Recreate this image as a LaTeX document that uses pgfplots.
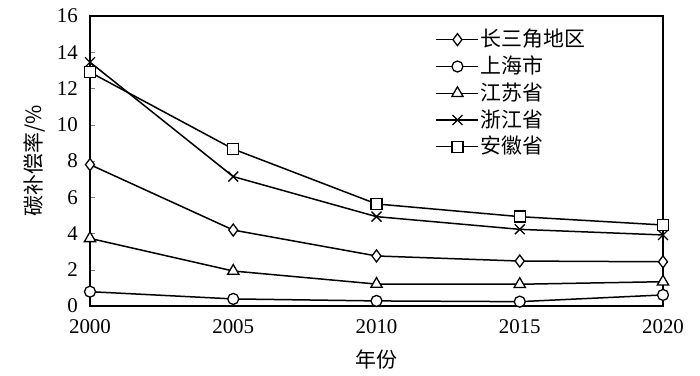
\documentclass[border=0pt]{standalone}
\usepackage{pgfplots}
\pgfplotsset{compat=1.18}
\usepackage{fontspec}
\setmainfont{Liberation Serif}
\newfontfamily\cjk{Noto Sans CJK SC}
\begin{document}
\fontsize{21}{25}\selectfont
\begin{tikzpicture}
\begin{axis}[
  scale only axis,
  width=573bp, height=290bp,
  at={(0,0)}, anchor=south west,
  xmin=2000, xmax=2020, ymin=0, ymax=16,
  xtick={2000,2005,2010,2015,2020},
  ytick={0,2,...,16},
  xticklabel style={/pgf/number format/1000 sep={}, yshift=-6bp},
  yticklabel style={xshift=-5bp},
  /pgf/number format/assume math mode=true,
  tick label style={font=\fontsize{21}{25}\selectfont},
  tick align=inside,
  major tick length=5bp,
  xtick style={draw=none},
  ytick pos=left,
  axis line style={line width=1.6bp},
  every axis plot/.append style={black, line width=1.5bp, mark options={solid, fill=white, line width=1.3bp}},
  xlabel={\cjk 年份},
  ylabel={\cjk 碳补偿率/\%},
  label style={font=\fontsize{21}{25}\selectfont},
  xlabel style={yshift=-2bp},
  ylabel style={yshift=-2bp},
  legend style={draw=none, fill=none, at={(0.603,0.96)}, anchor=north west,
    font=\fontsize{21}{25}\selectfont, row sep=3bp, inner sep=0pt,
    nodes={inner sep=1.5bp}},
  legend cell align=left,
  legend image code/.code={\draw[mark repeat=2,mark phase=2] plot coordinates {(0bp,0bp) (21bp,0bp) (42bp,0bp)};},
  clip=false,
]
\addplot[mark=diamond*, mark size=6bp] coordinates {(2000,7.8) (2005,4.19) (2010,2.76) (2015,2.48) (2020,2.44)};
\addlegendentry{\cjk 长三角地区}
\addplot[mark=*, mark size=5.5bp] coordinates {(2000,0.79) (2005,0.39) (2010,0.28) (2015,0.24) (2020,0.61)};
\addlegendentry{\cjk 上海市}
\addplot[mark=triangle*, mark size=6.5bp] coordinates {(2000,3.73) (2005,1.93) (2010,1.21) (2015,1.2) (2020,1.34)};
\addlegendentry{\cjk 江苏省}
\addplot[mark=x, mark size=7bp] coordinates {(2000,13.45) (2005,7.14) (2010,4.93) (2015,4.23) (2020,3.92)};
\addlegendentry{\cjk 浙江省}
\addplot[mark=square*, mark size=5.5bp] coordinates {(2000,12.9) (2005,8.66) (2010,5.63) (2015,4.93) (2020,4.47)};
\addlegendentry{\cjk 安徽省}
\end{axis}
\pgfresetboundingbox
\path[use as bounding box] (-90bp,-70bp) rectangle (610bp,306bp);
\end{tikzpicture}
\end{document}
